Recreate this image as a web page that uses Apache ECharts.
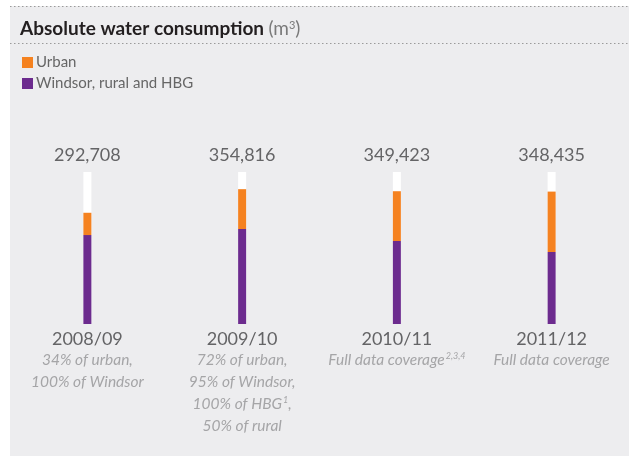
<!DOCTYPE html>
<html>
<head>
<meta charset="utf-8">
<script src="https://cdn.jsdelivr.net/npm/echarts@6/dist/echarts.min.js"></script>
<style>
  html, body { margin: 0; padding: 0; background: #fff; }
  #chart { width: 629px; height: 457px; }
</style>
</head>
<body>
<div id="chart"></div>
<script>
// Years and the notes on data coverage shown under each one (^x^ = superscript)
const years = ['2008/09', '2009/10', '2010/11', '2011/12'];
const coverageNotes = [
  ['34% of urban,', '100% of Windsor'],
  ['72% of urban,', '95% of Windsor,', '100% of HBG^1^,', '50% of rural'],
  ['Full data coverage^2,3,4^'],
  ['Full data coverage']
];

// Consumption in m3 by site group
const windsorRuralHbg = [234000, 250000, 218400, 189500];
const urban = [58708, 104816, 131023, 158935];

// Scale ceiling used for the white column behind each bar
const scaleMax = 400000;

const FONT = 'Lato, "Open Sans", sans-serif';
const ORANGE = '#f58220';
const PURPLE = '#6c2b8e';
const TEXT_GREY = '#646466';
const NOTE_GREY = '#a5a5a7';

const fmt = v => v.toLocaleString('en-US');
const totals = years.map((_, i) => windsorRuralHbg[i] + urban[i]);

function noteLine(line) {
  // split into plain and superscript pieces
  const parts = line.split('^');
  return parts.map((p, k) => p === '' ? '' : (k % 2 ? '{sup|' + p + '}' : '{note|' + p + '}')).join('');
}

const chart = echarts.init(document.getElementById('chart'), null, { renderer: 'canvas' });

chart.setOption({
  backgroundColor: '#ffffff',
  animation: false,
  textStyle: { fontFamily: FONT },
  graphic: [
    { type: 'rect', shape: { x: 10, y: 6, width: 619, height: 450 }, style: { fill: '#ededef' }, z: -10 },
    { type: 'line', shape: { x1: 10, y1: 6.5, x2: 629, y2: 6.5 }, style: { stroke: '#9a9a9a', lineWidth: 1, lineDash: [1.5, 2.5] } },
    { type: 'line', shape: { x1: 10, y1: 43.5, x2: 629, y2: 43.5 }, style: { stroke: '#9a9a9a', lineWidth: 1, lineDash: [1.5, 2.5] } }
  ],
  title: {
    left: 15,
    top: 12,
    text: '{b|Absolute water consumption} {l|(m}{s|3}{l|)}',
    textStyle: {
      rich: {
        b: { fontFamily: FONT, fontWeight: 'bold', fontSize: 19, color: '#231f20', lineHeight: 24 },
        l: { fontFamily: FONT, fontWeight: 'normal', fontSize: 19, color: '#7a7a7a', lineHeight: 24 },
        s: { fontFamily: FONT, fontWeight: 'normal', fontSize: 11, color: '#7a7a7a', verticalAlign: 'top', padding: [3, 0, 0, 0] }
      }
    }
  },
  legend: {
    orient: 'vertical',
    left: 17,
    top: 50,
    itemWidth: 11,
    itemHeight: 11,
    itemGap: 6,
    icon: 'rect',
    data: ['Urban', 'Windsor, rural and HBG'],
    textStyle: { fontFamily: FONT, fontSize: 15, color: '#666', padding: [0, 0, 0, -2] }
  },
  grid: { left: 10, top: 172, width: 624, height: 152 },
  xAxis: [
    {
      type: 'category',
      data: years,
      axisLine: { show: false },
      axisTick: { show: false },
      axisLabel: {
        interval: 0,
        margin: 5,
        formatter: (val, idx) => {
          const lines = ['{cat|' + val + '}'];
          coverageNotes[idx].forEach(l => lines.push(noteLine(l)));
          return lines.join('\n');
        },
        rich: {
          cat: { fontFamily: FONT, fontSize: 18, color: TEXT_GREY, lineHeight: 20 },
          note: { fontFamily: FONT, fontStyle: 'italic', fontSize: 15.5, color: NOTE_GREY, lineHeight: 22 },
          sup: { fontFamily: FONT, fontStyle: 'italic', fontSize: 9, color: NOTE_GREY, lineHeight: 22, verticalAlign: 'top', padding: [3, 0, 0, 1] }
        }
      }
    },
    {
      type: 'category',
      position: 'top',
      data: years,
      axisLine: { show: false },
      axisTick: { show: false },
      axisLabel: {
        interval: 0,
        margin: 8,
        fontFamily: FONT,
        fontSize: 18,
        color: TEXT_GREY,
        formatter: (val, idx) => fmt(totals[idx])
      }
    }
  ],
  yAxis: {
    type: 'value',
    min: 0,
    max: scaleMax,
    show: false
  },
  series: [
    {
      name: 'Windsor, rural and HBG',
      type: 'bar',
      stack: 'water',
      barWidth: 8,
      data: windsorRuralHbg,
      itemStyle: { color: PURPLE },
      showBackground: true,
      backgroundStyle: { color: '#ffffff' }
    },
    {
      name: 'Urban',
      type: 'bar',
      stack: 'water',
      barWidth: 8,
      data: urban,
      itemStyle: { color: ORANGE }
    }
  ]
});
</script>
</body>
</html>
